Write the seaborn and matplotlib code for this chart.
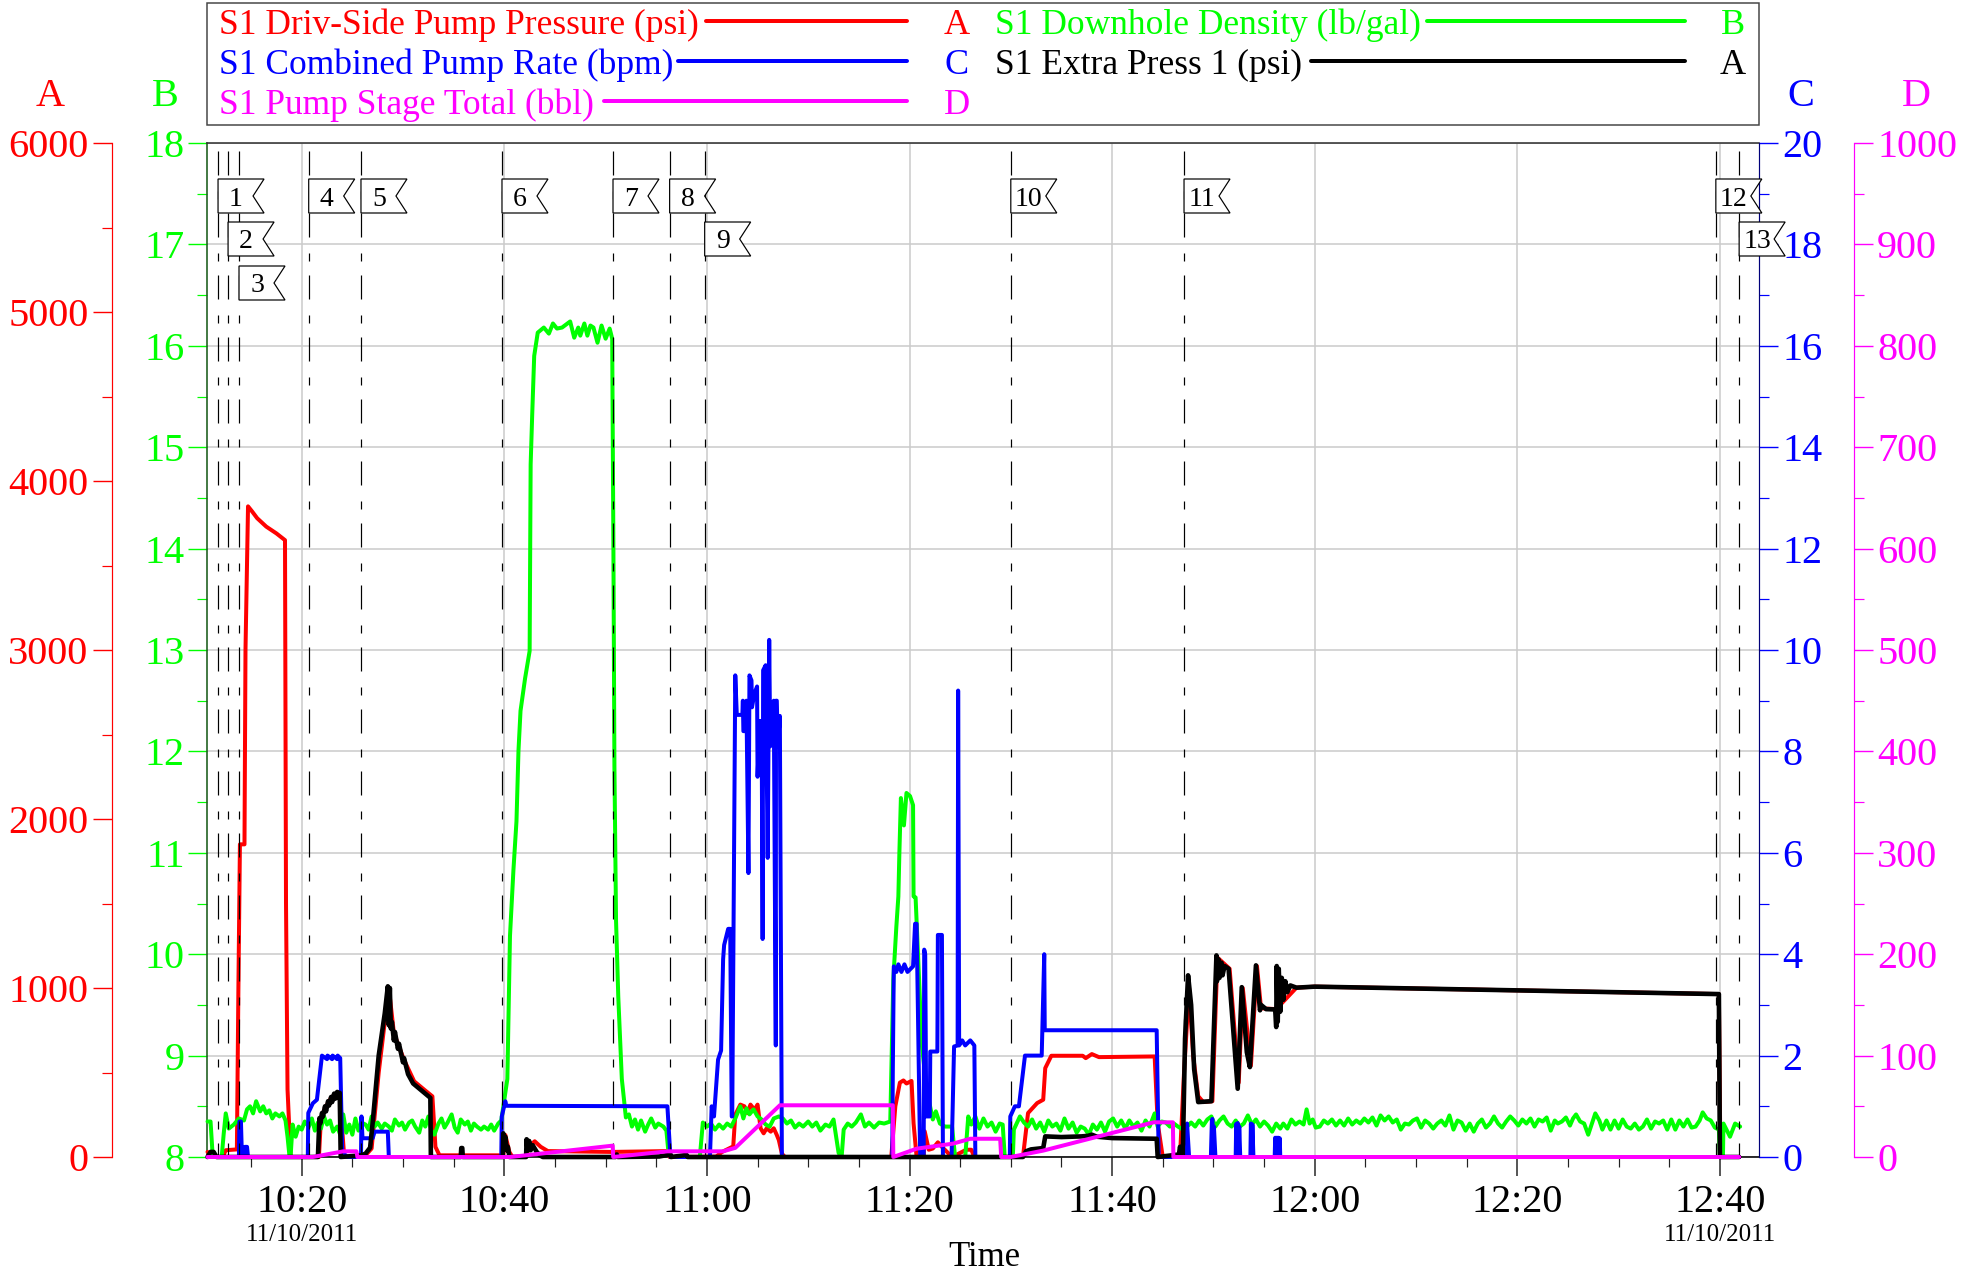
import matplotlib
matplotlib.use("Agg")
import matplotlib.pyplot as plt
import seaborn as sns
from matplotlib.lines import Line2D
from matplotlib.patches import Polygon
from matplotlib.ticker import MultipleLocator, FixedLocator, NullFormatter
from matplotlib.transforms import IdentityTransform

# data, time in minutes after 10:00
red_pts = [(10.7,30),(11.0,15),(11.3,0),(12.2,0),(12.5,40),(13.6,45),(13.75,1000),(13.9,1850),(14.35,1850),
           (14.45,3000),(14.7,3850),(15.1,3820),(15.6,3780),(16.5,3730),(17.5,3690),(18.35,3650),(18.45,1500),
           (18.6,400),(18.9,0),(21.7,0),(21.9,230),(22.3,290),(22.9,350),(23.4,375),(23.8,375),(23.95,200),(24.2,0),
           (26.3,10),(26.9,50),(27.6,500),(28.6,1000),(29.1,733),(30.1,575),(31.1,448),(32.1,398),(32.9,359),(33.2,60),(33.6,10),
           (39.9,10),(40.1,130),(40.5,30),(40.8,0),(42.2,5),(42.4,60),(43,93),(43.6,60),(44.3,35),(50.6,30),(56.1,35),(56.3,0),
           (60.9,2),(61.5,30),(62.6,63),(62.8,250),(63.3,310),(63.7,300),(64.0,260),(64.3,310),(64.7,280),(65.0,310),(65.3,170),
           (65.6,140),(65.9,170),(66.3,150),(66.6,170),(66.9,130),(67.1,100),(67.4,20),(67.7,0),(78.2,0),(78.6,300),(79.05,440),
           (79.4,453),(79.7,435),(80.2,450),(80.4,200),(80.7,0),(81.4,5),(81.5,152),(81.9,43),(82.3,50),(82.8,87),(83.2,60),(83.8,24),
           (84.2,0),(85.6,43),(86.1,43),(86.4,0),(91.2,0),(91.7,260),(92.6,319),(93.2,339),(93.4,526),(94,599),(97.1,599),(97.4,585),
           (98,609),(98.7,591),(104.2,595),(104.5,200),(105,0),(106.7,0),(107.1,500),(107.6,1000),(108.0,600),(108.5,360),(109.0,325),
           (109.9,330),(110.4,1180),(111.6,1114),(112.5,440),(112.9,1000),(113.7,540),(114.3,1130),(114.7,880),(116.2,875),(118.2,1002),
           (120,1008),(159.9,964),(160.05,0),(161.9,0)]
black_pts = [(10.7,0),(11,30),(11.3,30),(11.6,0),(21.6,0),(21.75,230),(21.85,200),(22,260),(22.1,240),(22.3,300),(22.4,270),
             (22.6,330),(22.7,305),(22.9,355),(23,325),(23.2,375),(23.3,345),(23.5,385),(23.6,350),(23.75,380),(23.85,0),
             (25.9,10),(26.3,20),(26.75,55),(27,200),(27.6,600),(28.2,850),(28.5,1010),(28.6,780),(28.7,1000),(28.8,760),(28.9,800),
             (29.1,690),(29.2,740),(29.5,640),(29.6,670),(30,560),(30.1,585),(30.5,490),(31,435),(31.5,410),(32,385),(32.7,350),(32.75,0),
             (35.7,0),(35.75,53),(35.85,53),(35.9,0),(39.85,0),(39.9,140),(40,60),(40.1,120),(40.25,40),(40.35,60),(40.5,0),
             (42.15,0),(42.2,105),(42.3,40),(42.45,95),(42.6,40),(42.8,70),(43.2,30),(43.5,10),(43.8,0),(51,0),(51.1,15),(51.2,0),
             (55.3,3),(56.4,15),(56.45,0),(58,12),(58.1,0),(91.2,0),(91.5,34),(92,45),(93.2,53),(93.4,122),(95,118),(97,122),(97.6,125),
             (98,132),(98.5,120),(100,112),(104.4,108),(104.5,0),(106.6,15),(106.7,60),(106.9,20),(107,80),(107.2,700),(107.5,1075),
             (107.8,900),(108.1,520),(108.5,325),(109.8,330),(110.3,1193),(110.35,1040),(110.5,1170),(110.6,1060),(110.8,1150),
             (110.9,1075),(111.1,1130),(111.5,1114),(112.4,404),(112.8,1005),(113.3,620),(113.6,532),(114.2,1134),(114.6,868),(114.7,900),
             (115.2,875),(116.1,873),(116.2,769),(116.25,1130),(116.35,800),(116.45,1114),(116.6,860),(116.75,1060),(116.9,930),
             (117.1,1040),(117.3,975),(117.6,1015),(118.2,1002),(120,1008),(130,997),(140,986),(150,975),(159.9,964),(160,0),(161.9,0)]
blue_pts = [(10.7,0),(13.8,0),(13.85,0.7),(14.0,0.7),(14.1,0),(14.35,0),(14.4,0.2),(14.6,0.2),(14.7,0),(20.6,0),(20.65,0.87),(21.1,1.06),
            (21.5,1.13),(22,2.0),(22.5,1.93),(22.55,2.0),(23,1.93),(23.05,2.0),(23.5,1.93),(23.55,2.0),(23.8,1.95),(24,0.1),(24.5,0),(25.85,0),
            (25.9,0.8),(26,0.37),(27.0,0.37),(27.2,0.5),(28.5,0.5),(28.6,0),(39.7,0),(39.75,0.8),(40.1,1.1),(40.2,1.01),(56.1,1.0),(56.4,0),
            (60.3,0),(60.47,1.0),(60.7,0.8),(61.1,1.92),(61.4,2.1),(61.6,3.9),(61.7,4.18),(62.1,4.5),(62.3,4.5),(62.45,0.8),(62.5,0.8),(62.8,9.5),
            (62.95,8.72),(63.5,8.72),(63.55,9.0),(63.6,8.4),(63.85,8.4),(63.9,9.0),(64.1,5.6),(64.2,9.5),(64.4,9.4),(64.45,8.87),(64.7,9.15),
            (64.95,9.28),(65.0,7.5),(65.2,8.6),(65.25,8.1),(65.4,8.6),(65.5,4.3),(65.55,9.6),(65.8,9.7),(66.0,5.9),(66.15,10.2),(66.25,8.1),
            (66.6,9.0),(66.8,2.2),(66.82,9.0),(66.9,9.0),(67.0,8.1),(67.2,8.7),(67.4,0),(78.3,0),(78.35,1.66),(78.45,3.76),(78.7,3.65),(78.9,3.8),
            (79.2,3.65),(79.5,3.8),(79.8,3.65),(80.35,3.76),(80.55,4.6),(80.7,4.6),(81.05,0),(81.4,0),(81.45,4.09),(81.55,4.0),(81.65,0.8),
            (82,0.8),(82.05,2.08),(82.75,2.08),(82.8,4.38),(83.2,4.38),(83.3,0),(84.15,0),(84.4,2.18),(84.75,2.2),(84.8,9.2),(84.9,2.2),(85.2,2.3),
            (85.5,2.2),(86.0,2.3),(86.4,2.2),(86.5,0),(89.9,0),(89.95,0.8),(90.4,1.0),(90.8,1.0),(91.4,2.0),(93.05,2.0),(93.3,4.0),(93.35,2.5),
            (104.4,2.5),(104.6,0),(107.3,0),(107.4,0.66),(107.6,0),(109.75,0),(109.85,0.72),(109.9,0.75),(110.0,0),(110.05,0.6),(110.2,0),
            (112.2,0),(112.25,0.65),(112.35,0),(112.4,0.67),(112.5,0),(112.55,0.6),(112.65,0),(113.65,0),(113.7,0.66),(113.8,0),(113.85,0.64),
            (113.95,0),(116.05,0),(116.1,0.38),(116.2,0),(116.25,0.38),(116.35,0),(116.4,0.38),(116.5,0),(116.55,0.37),(116.6,0),(161.9,0)]
mag_pts = [(10.7,0),(21.1,0),(24.1,5.6),(25.4,5.6),(25.5,0),(40.6,0),(50.7,11.2),(50.75,0),(56.1,5.6),(61.6,5.6),(62.8,9),(67.2,51),
           (78.35,51),(78.4,0),(80.7,8.2),(84.3,13.2),(86,18),(88.95,18),(89.05,0),(90,0),(93.2,6.3),(104.1,34.2),(106,34.2),(106.05,0),(161.9,0)]
green_pts = [(10.7,8.35),(11.0,8.35),(11.2,8.03),(11.5,8),(12.1,8),(12.3,8.23),(12.5,8.43),(12.8,8.28),(13.3,8.32),(13.8,8.38),(14.3,8.36),
             (14.6,8.47),(14.9,8.5),(15.2,8.43),(15.5,8.55),(15.9,8.45),(16.2,8.5),(16.5,8.43),(16.8,8.46),(17.1,8.38),(17.4,8.43),(17.8,8.4),
             (18.1,8.43),(18.4,8.36),(18.6,8.2),(18.8,8.0),(18.9,8.0),(19.1,8.32),(19.4,8.2),(19.7,8.3),(20.0,8.27),(20.3,8.35),(20.7,8.3),
             (21.0,8.38),(21.3,8.26),(21.6,8.34),(21.9,8.28),(22.2,8.4),(22.5,8.32),(22.8,8.36),(23.1,8.25),(23.5,8.3),(23.8,8.22),(24.1,8.42),
             (24.4,8.24),(24.7,8.32),(25.0,8.22),(25.3,8.38),(25.6,8.26),(25.9,8.34),(26.3,8.32),(26.6,8.27),(26.9,8.4),(27.2,8.3),(27.5,8.34),
             (27.9,8.28),(28.2,8.33),(28.6,8.3),(28.9,8.26),(29.2,8.37),(29.6,8.31),(29.9,8.34),(30.2,8.27),(30.6,8.34),(30.9,8.36),(31.2,8.3),
             (31.6,8.24),(31.9,8.36),(32.2,8.3),(32.5,8.4),(32.8,8.26),(33.1,8.22),(33.5,8.33),(33.8,8.38),(34.1,8.29),(34.4,8.34),(34.8,8.42),
             (35.1,8.29),(35.4,8.24),(35.7,8.37),(36.1,8.32),(36.4,8.35),(36.7,8.26),(37.0,8.33),(37.3,8.3),(37.7,8.27),(38.0,8.3),(38.4,8.27),
             (38.7,8.32),(39.0,8.26),(39.4,8.33),(39.7,8.36),(40.07,8.61),(40.3,8.77),(40.56,10.18),(40.9,10.83),(41.2,11.31),(41.4,12.01),
             (41.6,12.4),(42.05,12.72),(42.5,12.99),(42.6,14.83),(42.75,15.31),(42.95,15.9),(43.3,16.13),(43.9,16.18),(44.4,16.12),(44.8,16.22),
             (45.2,16.17),(45.7,16.18),(46.5,16.24),(46.9,16.08),(47.3,16.18),(47.5,16.1),(47.9,16.22),(48.2,16.1),(48.5,16.2),(48.8,16.18),
             (49.2,16.03),(49.6,16.2),(50,16.07),(50.4,16.17),(50.65,16.07),(50.77,14.0),(50.87,11.85),(51.03,10.33),(51.25,9.58),(51.6,8.77),
             (52,8.39),(52.3,8.42),(52.6,8.3),(52.9,8.37),(53.2,8.27),(53.5,8.36),(53.9,8.25),(54.2,8.32),(54.5,8.38),(54.9,8.29),(55.2,8.33),
             (55.7,8.3),(56.0,8.26),(56.2,8.05),(56.6,8),(59.3,8),(59.6,8.34),(60.0,8.3),(60.4,8.33),(60.8,8.27),(61.2,8.32),(61.6,8.28),(62.0,8.33),
             (62.4,8.3),(62.8,8.38),(63.3,8.5),(63.6,8.38),(63.9,8.48),(64.2,8.42),(64.6,8.47),(65,8.4),(65.4,8.37),(65.8,8.32),(66.2,8.3),(66.6,8.38),
             (67.1,8.4),(67.5,8.38),(67.9,8.33),(68.3,8.36),(68.7,8.29),(69.1,8.33),(69.5,8.3),(70,8.35),(70.4,8.3),(70.8,8.34),(71.2,8.26),(71.7,8.32),
             (72.1,8.3),(72.5,8.37),(73,8.04),(73.3,8),(73.5,8.27),(73.9,8.33),(74.3,8.3),(74.7,8.34),(75.2,8.42),(75.6,8.3),(76,8.34),(76.5,8.29),
             (77,8.34),(77.5,8.33),(78.1,8.35),(78.4,9.75),(78.7,10.27),(78.9,10.57),(79.0,11.0),(79.15,11.54),(79.45,11.27),(79.7,11.59),(80.05,11.56),
             (80.35,11.47),(80.4,10.57),(80.6,10.56),(80.95,9.74),(81.2,9.12),(81.7,8.66),(82.3,8.37),(82.6,8.45),(83,8.33),(83.5,8.3),(84.2,8.3),
             (84.5,8),(85.5,8),(85.8,8.4),(86.1,8.32),(86.5,8.4),(86.9,8.28),(87.3,8.38),(87.7,8.3),(88.1,8.34),(88.5,8.25),(88.9,8.33),(89.2,8.32),
             (89.4,8),(90.2,8),(90.3,8.27),(90.9,8.4),(91.3,8.34),(91.7,8.3),(92.1,8.37),(92.5,8.28),(92.9,8.34),(93.3,8.25),(93.7,8.36),(94.1,8.3),
             (94.5,8.33),(94.9,8.26),(95.3,8.38),(95.7,8.28),(96.1,8.34),(96.5,8.24),(96.9,8.3),(97.3,8.28),(97.7,8.22),(98.1,8.32),(98.5,8.27),(98.9,8.34),
             (99.3,8.25),(99.7,8.35),(100.1,8.38),(100.5,8.3),(100.9,8.36),(101.3,8.28),(101.7,8.36),(102.1,8.3),(102.5,8.34),(102.9,8.26),(103.3,8.36),
             (103.7,8.3),(104.2,8.43),(104.5,8.3),(104.9,8.35),(105.3,8.34),(105.7,8.3),(106.1,8.33),(106.5,8.3),(107,8.27),(107.4,8.3),(107.8,8.34),
             (108.2,8.3),(108.6,8.36),(109,8.31),(109.4,8.37),(109.8,8.4),(110.2,8.3),(110.6,8.36),(111,8.4),(111.4,8.33),(111.8,8.3),(112.2,8.36),
             (112.6,8.3),(113,8.33),(113.4,8.41),(113.8,8.32),(114.2,8.37),(114.6,8.3),(115,8.35),(115.4,8.31),(115.8,8.25),(116.2,8.33),(116.6,8.28),
             (116.9,8.33),(117.3,8.28),(117.7,8.37),(118.1,8.32),(118.5,8.35),(118.9,8.32),(119.2,8.47),(119.5,8.33),(119.8,8.37),(120.1,8.29),(120.5,8.3),
             (120.9,8.36),(121.3,8.33),(121.7,8.37),(122.1,8.31),(122.5,8.36),(122.9,8.31),(123.3,8.38),(123.7,8.32),(124.1,8.36),(124.5,8.33),(124.9,8.38),
             (125.3,8.34),(125.7,8.39),(126.1,8.31),(126.5,8.41),(126.9,8.36),(127.3,8.4),(127.7,8.34),(128.1,8.37),(128.5,8.27),(128.9,8.33),(129.3,8.32),
             (129.7,8.36),(130.1,8.38),(130.5,8.29),(130.9,8.36),(131.3,8.33),(131.7,8.28),(132.1,8.33),(132.5,8.36),(132.9,8.31),(133.3,8.41),(133.7,8.27),
             (134.1,8.36),(134.5,8.34),(134.9,8.26),(135.3,8.33),(135.7,8.25),(136.1,8.33),(136.5,8.37),(136.9,8.29),(137.3,8.33),(137.7,8.4),(138.1,8.33),
             (138.5,8.29),(138.9,8.35),(139.3,8.4),(139.7,8.36),(140.1,8.31),(140.5,8.37),(140.9,8.33),(141.3,8.38),(141.7,8.3),(142.1,8.37),(142.5,8.35),
             (142.9,8.39),(143.3,8.26),(143.7,8.36),(144,8.33),(144.4,8.35),(144.8,8.39),(145.2,8.31),(145.5,8.38),(145.8,8.42),(146.2,8.35),(146.6,8.33),
             (147,8.22),(147.4,8.34),(147.7,8.43),(148.1,8.36),(148.4,8.27),(148.8,8.36),(149.2,8.27),(149.6,8.36),(150,8.28),(150.4,8.37),(150.8,8.3),
             (151.2,8.28),(151.6,8.33),(152,8.27),(152.4,8.3),(152.8,8.37),(153.2,8.28),(153.6,8.35),(154,8.33),(154.4,8.36),(154.8,8.27),(155.2,8.37),
             (155.6,8.27),(156,8.36),(156.4,8.3),(156.8,8.37),(157.2,8.29),(157.6,8.3),(158,8.36),(158.3,8.44),(158.7,8.38),(159.1,8.36),(159.5,8.29),
             (159.9,8.27),(160.0,8),(160.3,8),(160.35,8.33),(160.6,8.28),(161,8.2),(161.5,8.33),(162,8.3)]

major_times = [20, 40, 60, 80, 100, 120, 140, 160]
major_labels = ["10:20", "10:40", "11:00", "11:20", "11:40", "12:00", "12:20", "12:40"]
event_times = [11.74, 12.73, 13.81, 20.69, 25.85, 39.77, 50.73, 56.32, 59.78, 90.0, 107.1, 159.6, 161.9]
event_rows = [0, 1, 2, 0, 0, 0, 0, 0, 1, 0, 0, 0, 1]
date_text = "11/10/2011"

C_RED, C_GREEN, C_BLUE, C_MAG = "#ff0000", "#00ff00", "#0000ff", "#ff00ff"
SERIF = ["Liberation Serif", "DejaVu Serif"]
W, H = 1980, 1273
L, R, T, B = 207, 1759, 143, 1157  # plot box in pixels

sns.set_theme(style="white")
plt.rcParams["font.family"] = SERIF
plt.rcParams["lines.scale_dashes"] = False


def pt(px):
    return px * 0.72


fig = plt.figure(figsize=(W / 100, H / 100), dpi=100, facecolor="white")
base = fig.add_axes([L / W, 1 - B / H, (R - L) / W, (B - T) / H])
base.set_xlim(10.65, 163.86)
base.set_ylim(8, 18)


def style_y(ax, color, major, minor, side, out=0, pad=3):
    ax.yaxis.set_major_locator(MultipleLocator(major))
    ax.yaxis.set_minor_locator(MultipleLocator(minor))
    ax.yaxis.set_ticks_position(side)
    ax.tick_params(axis="y", which="major", length=pt(19), width=pt(1.4), color=color,
                   labelcolor=color, labelsize=29, pad=pad, direction="out")
    ax.tick_params(axis="y", which="minor", length=pt(10), width=pt(1.2), color=color, direction="out")
    for s in ax.spines.values():
        s.set_visible(False)
    sp = ax.spines[side]
    sp.set_visible(True)
    sp.set_color(color)
    sp.set_linewidth(pt(1.2))
    sp.set_position(("outward", pt(out)))


def twin(ylim, zorder):
    ax = base.twinx()
    ax.set_ylim(*ylim)
    ax.set_zorder(zorder)
    ax.patch.set_visible(False)
    ax.grid(False)
    return ax


ax_red = twin((0, 6000), 2)
ax_green = twin((8, 18), 3)
ax_blue = twin((0, 20), 4)
ax_black = twin((0, 6000), 5)
ax_mag = twin((0, 1000), 6)

# base axis: grid, x axis and the B scale
base.set_zorder(1)
base.set_facecolor("white")
style_y(base, C_GREEN, 1, 0.5, "left", pad=2.5)
base.xaxis.set_major_locator(FixedLocator(major_times))
base.set_xticklabels(major_labels)
base.xaxis.set_minor_locator(MultipleLocator(5))
base.xaxis.set_minor_formatter(NullFormatter())
base.xaxis.set_ticks_position("bottom")
base.tick_params(axis="x", which="major", length=pt(19), width=pt(1.5), color="#222222", labelsize=29,
                 labelcolor="black", pad=pt(8))
base.tick_params(axis="x", which="minor", length=pt(10), width=pt(1.2), color="#222222")
base.grid(True, which="major", color="#cccccc", lw=pt(1.6))
base.set_axisbelow(True)
for name, c in [("top", "#333333"), ("bottom", "black"), ("left", "#1a5c1a")]:
    base.spines[name].set_visible(True)
    base.spines[name].set_color(c)
    base.spines[name].set_linewidth(pt(1.6))

style_y(ax_red, C_RED, 1000, 500, "left", out=95.4)
style_y(ax_blue, C_BLUE, 2, 1, "right")
ax_blue.spines["right"].set_color("#00007a")
style_y(ax_mag, C_MAG, 100, 50, "right", out=95)
for ax in (ax_green, ax_black):
    ax.axis("off")

series = [(ax_red, red_pts, C_RED, 4.0), (ax_green, green_pts, C_GREEN, 4.0), (ax_blue, blue_pts, C_BLUE, 4.0),
          (ax_black, black_pts, "black", 4.6), (ax_mag, mag_pts, C_MAG, 4.0)]
for ax, pts, c, w in series:
    xs, ys = zip(*pts)
    sns.lineplot(x=list(xs), y=list(ys), ax=ax, color=c, lw=pt(w), sort=False, estimator=None,
                 solid_joinstyle="round", solid_capstyle="round", clip_on=False)
    ax.set_xlabel("")
    ax.set_ylabel("")

# event markers, dash pattern counted from the top of the line
top_frac = (B - 151) / (B - T)
for t in event_times:
    ax_mag.plot([t, t], [top_frac, 0], transform=ax_mag.get_xaxis_transform(), color="black", lw=pt(1.2),
                dashes=(pt(24), pt(16), pt(8), pt(14)), zorder=1, clip_on=False)

# date under first and last labelled tick
for t in (major_times[0], major_times[-1]):
    base.annotate(date_text, xy=(t, 0), xycoords=("data", "axes fraction"), xytext=(0, -pt(84)),
                  textcoords="offset points", ha="center", va="baseline", fontsize=18, color="black",
                  annotation_clip=False)

# numbered flags, drawn in pixel space from the event position
fig.canvas.draw()
ident = IdentityTransform()
row_tops = [179, 222, 266]
for i, (t, row) in enumerate(zip(event_times, event_rows)):
    x0 = ax_mag.transData.transform((t, 0))[0]
    y0 = H - row_tops[row]
    poly = [(x0, y0), (x0 + 46, y0), (x0 + 35, y0 - 17), (x0 + 46, y0 - 34), (x0, y0 - 34)]
    fig.add_artist(Polygon(poly, closed=True, fc="white", ec="black", lw=pt(1.2), transform=ident, zorder=20))
    fig.text(x0 + 18, y0 - 17, str(i + 1), transform=ident, ha="center", va="center_baseline", fontsize=20,
             color="black", zorder=21)


def px_text(x, y, s, color, size, ha="left"):
    fig.text(x / W, 1 - y / H, s, color=color, fontsize=size, ha=ha, va="baseline", zorder=30)


def px_line(x0, x1, y, color):
    fig.add_artist(Line2D([x0 / W, x1 / W], [1 - y / H, 1 - y / H], color=color, lw=pt(4), zorder=30))


# legend box
fig.add_artist(Polygon([(L, H - 3), (R, H - 3), (R, H - 125), (L, H - 125)], closed=True, fc="white",
                       ec="#444444", lw=pt(1.5), transform=ident, zorder=25))
legend_left = [("S1 Driv-Side Pump Pressure (psi)", C_RED, 706, 907, "A", 34, 21),
               ("S1 Combined Pump Rate (bpm)", C_BLUE, 678, 907, "C", 74, 61),
               ("S1 Pump Stage Total (bbl)", C_MAG, 604, 907, "D", 114, 101)]
legend_right = [("S1 Downhole Density (lb/gal)", C_GREEN, 1427, 1685, "B", 34, 21),
                ("S1 Extra Press 1 (psi)", "black", 1311, 1685, "A", 74, 61)]
for s, c, x0, x1, letter, yb, yl in legend_left:
    px_text(219, yb, s, c, 25.5)
    px_line(x0, x1, yl, c)
    px_text(957, yb, letter, c, 26, ha="center")
for s, c, x0, x1, letter, yb, yl in legend_right:
    px_text(995, yb, s, c, 25.5)
    px_line(x0, x1, yl, c)
    px_text(1733, yb, letter, c, 26, ha="center")

# axis letters
for x, s, c in [(50, "A", C_RED), (165, "B", C_GREEN), (1801, "C", C_BLUE), (1916, "D", C_MAG)]:
    px_text(x, 106, s, c, 29, ha="center")

# x axis title
px_text((L + R) / 2 + 1, 1266, "Time", "black", 25, ha="center")

fig.savefig("out.png", dpi=100, facecolor="white")
